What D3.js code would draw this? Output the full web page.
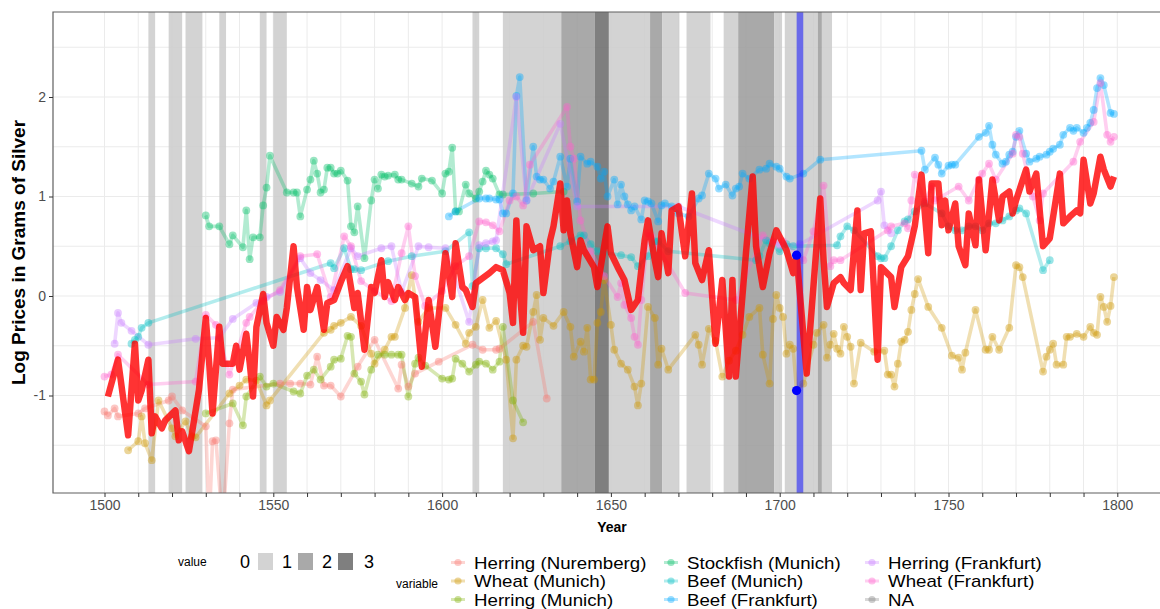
<!DOCTYPE html>
<html><head><meta charset="utf-8">
<script src="https://cdn.jsdelivr.net/npm/d3@7"></script>
<style>
body{margin:0;background:#fff;}
text{font-family:"Liberation Sans",Arial,sans-serif;}
</style></head>
<body><svg id="chart" width="1160" height="609"></svg>
<script>
// ---------------- DATA ----------------
const seriesNames = ["Herring (Nuremberg)","Wheat (Munich)","Herring (Munich)","Stockfish (Munich)","Beef (Munich)","Beef (Frankfurt)","Herring (Frankfurt)","Wheat (Frankfurt)","NA"];
const seriesColors = ["#F8766D","#CD9600","#7CAE00","#00BE67","#00BFC4","#00A9FF","#C77CFF","#FF61CC","#7F7F7F"];
const xTickLabels = [1500,1550,1600,1650,1700,1750,1800];
const yTickLabels = [-1,0,1,2];
const bandLevels = ["0","1","2","3"];
// [start year, end year, value]
const bands = [[1513,1515,1],[1519,1523,1],[1524,1529,1],[1534,1536,1],[1546,1548,1],[1550,1554,1],
 [1609,1611,1],[1618,1635.3,1],[1635.3,1645.2,2],[1645.2,1649.4,3],[1649.4,1661.6,1],[1661.6,1665.2,2],[1665.2,1670.3,1],
 [1672.4,1679.5,1],[1683.4,1687.7,1],[1687.7,1698.4,2],[1698.4,1700.7,1],[1701.5,1711.3,1],[1711.3,1712.5,2],[1712.5,1715.5,1]];
const markerYear = 1706;
const markerPoints = [[1705,0.41],[1705,-0.95]];

const herringNuremberg = [[1500,-1.16],[1501,-1.2],[1503,-1.13],[1504,-1.21],[1510,-1.18],[1512,-1.13],[1519,-1.05],[1520,-1.01],[1523,-1.15],[1530,-1.31],[1531,-2.3],[1532,-1.46],[1533,-1.45],[1535,-2.3],[1537,-1.28],[1538,-0.94],[1552,-0.88],[1555,-0.88],[1558,-0.88],[1561,-0.89],[1563,-0.61],[1565,-0.9],[1567,-0.9],[1570,-1.01],[1575,-0.71],[1580,-0.44],[1587,-0.93],[1588,-0.69],[1590,-0.91],[1592,-0.78],[1599,-0.66],[1609,-0.49],[1612,-0.54],[1616,-0.54],[1617,-0.53],[1627,-0.26],[1631,-1.03]];
const wheatMunich = [[1507,-1.55],[1510,-1.46],[1511,-1.21],[1512,-1.48],[1514,-1.65],[1516,-1.05],[1520,-1.33],[1521,-1.41],[1524,-1.26],[1526,-1.41],[1527,-1.42],[1537,-0.98],[1540,-0.9],[1542,-0.84],[1545,-0.85],[1548,-1.1],[1549,-1.05],[1565,-0.37],[1567,-0.34],[1568,-0.3],[1570,-0.27],[1573,-0.21],[1576,-0.3],[1579,-0.58],[1580,-0.68],[1583,-0.54],[1585,-0.41],[1586,-0.41],[1589,-0.12],[1591,0.21],[1593,-0.26],[1596,-0.12],[1601,-0.12],[1604,-0.29],[1607,-0.48],[1608,-0.37],[1610,-0.31],[1612,-0.04],[1614,-0.32],[1616,-0.25],[1619,-0.64],[1621,-1.43],[1622,-0.64],[1624,-0.5],[1625,-0.51],[1627,-0.16],[1628,0.01],[1629,-0.44],[1630,-0.22],[1633,-0.3],[1636,-0.16],[1638,-0.31],[1639,-0.61],[1641,-0.46],[1642,-0.56],[1643,-0.32],[1644,-0.84],[1645,-0.84],[1646,-0.27],[1647,-0.16],[1648,0.16],[1650,-0.29],[1651,-0.54],[1653,-0.68],[1655,-0.74],[1657,-0.91],[1658,-1.1],[1659,-0.88],[1661,-0.11],[1663,-0.22],[1664,-0.69],[1665,-0.53],[1667,-0.74],[1675,-0.39],[1676,-0.49],[1677,-0.69],[1679,-0.33],[1681,-0.45],[1683,-0.81],[1685,-0.65],[1687,-0.55],[1689,-0.39],[1691,-0.21],[1694,-0.12],[1695,-0.59],[1697,-0.88],[1698,-0.23],[1699,0.01],[1700,-0.12],[1701,-0.21],[1702,-0.58],[1703,-0.49],[1704,-0.53],[1705,-0.95],[1707,-0.88],[1710,-0.49],[1711,-0.37],[1713,-0.29],[1714,-0.62],[1715,-0.49],[1716,-0.38],[1717,-0.53],[1718,-0.58],[1719,-0.31],[1720,-0.41],[1721,-0.51],[1722,-0.88],[1724,-0.47],[1728,-0.56],[1731,-0.55],[1732,-0.79],[1733,-0.79],[1734,-0.91],[1735,-0.68],[1736,-0.46],[1737,-0.44],[1738,-0.36],[1739,-0.14],[1740,0.02],[1741,0.17],[1744,-0.11],[1748,-0.32],[1751,-0.6],[1753,-0.62],[1754,-0.74],[1755,-0.57],[1758,-0.14],[1761,-0.54],[1762,-0.54],[1763,-0.41],[1765,-0.54],[1768,-0.32],[1770,0.31],[1771,0.29],[1772,0.19],[1778,-0.76],[1779,-0.61],[1780,-0.54],[1781,-0.48],[1782,-0.69],[1784,-0.69],[1785,-0.41],[1786,-0.41],[1788,-0.38],[1790,-0.41],[1792,-0.31],[1793,-0.37],[1794,-0.39],[1795,-0.01],[1796,-0.11],[1797,-0.26],[1798,-0.1],[1799,0.19]];
const herringMunich = [[1530,-1.18],[1538,-1.08],[1541,-1.3],[1542,-1.01],[1546,-0.81],[1548,-0.91],[1550,-0.88],[1556,-0.96],[1558,-0.98],[1560,-0.8],[1562,-0.74],[1564,-0.84],[1567,-0.71],[1568,-0.64],[1570,-0.63],[1572,-0.4],[1573,-0.41],[1574,-0.78],[1576,-0.86],[1577,-0.99],[1579,-0.74],[1581,-0.59],[1583,-0.59],[1585,-0.59],[1587,-0.59],[1588,-0.59],[1590,-1.01],[1592,-0.68],[1593,-0.62],[1595,-0.7],[1600,-0.83],[1602,-0.84],[1603,-0.83],[1604,-0.63],[1606,-0.68],[1608,-0.76],[1610,-0.69],[1611,-0.66],[1613,-0.68],[1615,-0.74],[1617,-0.66],[1618,-0.31],[1621,-1.05],[1624,-1.27]];
const stockfishMunich = [[1530,0.81],[1531,0.7],[1534,0.7],[1537,0.52],[1538,0.61],[1541,0.49],[1542,0.86],[1543,0.37],[1544,0.59],[1546,0.59],[1547,0.91],[1548,1.09],[1549,1.41],[1554,1.04],[1556,1.04],[1557,1.04],[1558,0.8],[1560,1.07],[1561,1.17],[1562,1.36],[1563,1.23],[1564,1.04],[1565,1.07],[1566,1.29],[1567,1.29],[1568,1.23],[1569,1.23],[1570,1.26],[1572,1.16],[1573,0.7],[1574,0.64],[1575,0.9],[1577,0.38],[1579,0.96],[1580,1.17],[1581,1.08],[1582,1.22],[1583,1.2],[1584,1.21],[1586,1.22],[1587,1.17],[1588,1.17],[1591,1.13],[1593,1.1],[1594,1.18],[1597,1.16],[1600,1.03],[1601,1.23],[1602,1.25],[1603,1.49],[1604,0.85],[1605,0.85],[1607,1.12],[1608,1.03],[1610,0.98],[1611,1.05],[1612,1.15],[1613,1.26],[1614,1.22],[1615,1.18],[1617,1.02],[1618,1.02],[1627,1.03],[1636,1.05]];
const beefMunich = [[1508,-0.48],[1509,-0.44],[1510,-0.41],[1511,-0.32],[1513,-0.27],[1567,0.33],[1568,0.28],[1571,0.48],[1573,0.27],[1574,0.27],[1576,0.26],[1584,0.35],[1591,0.4],[1601,0.45],[1608,0.64],[1609,0.1],[1611,0.48],[1613,0.48],[1616,0.48],[1618,0.42],[1619,0.32],[1635,0.5],[1638,0.55],[1641,0.61],[1642,0.61],[1644,0.52],[1646,0.45],[1653,0.41],[1656,0.39],[1658,0.3],[1661,0.4],[1663,0.55],[1664,0.55],[1667,0.45],[1693,0.36],[1694,0.4],[1696,0.56],[1697,0.53],[1700,0.45],[1702,0.52],[1704,0.5],[1717,0.51],[1718,0.6],[1720,0.7],[1722,0.66],[1729,0.4],[1730,0.38],[1731,0.38],[1733,0.5],[1735,0.66],[1737,0.75],[1738,0.77],[1740,0.85],[1743,0.93],[1748,0.83],[1750,0.7],[1752,0.66],[1754,0.66],[1756,0.7],[1758,0.7],[1760,0.66],[1762,0.73],[1764,0.73],[1766,0.76],[1768,0.8],[1770,0.86],[1771,0.88],[1773,0.83],[1778,0.26],[1780,0.36]];
const beefFrankfurt = [[1602,0.8],[1604,0.85],[1611,0.98],[1613,0.98],[1614,0.98],[1616,0.97],[1617,0.97],[1618,0.83],[1619,0.83],[1621,1.03],[1622,2.01],[1623,2.2],[1625,0.96],[1627,1.5],[1628,1.2],[1629,1.17],[1630,1.17],[1632,1.08],[1633,1.15],[1635,1.4],[1637,1.1],[1638,1.38],[1640,0.95],[1641,1.4],[1643,1.33],[1644,1.35],[1646,1.3],[1647,1.18],[1648,1.25],[1649,1.0],[1651,1.17],[1652,0.92],[1653,1.12],[1654,1.0],[1655,0.92],[1656,0.86],[1657,0.9],[1659,0.77],[1660,0.96],[1661,0.95],[1662,0.93],[1664,0.75],[1665,0.91],[1666,0.93],[1668,0.9],[1670,0.83],[1673,0.8],[1676,0.98],[1677,1.01],[1679,1.23],[1681,1.18],[1682,1.08],[1684,1.12],[1686,1.01],[1687,1.08],[1688,1.1],[1689,1.23],[1691,1.18],[1694,1.27],[1696,1.28],[1697,1.33],[1699,1.3],[1700,1.28],[1702,1.2],[1703,1.18],[1707,1.23],[1712,1.37],[1742,1.46],[1743,1.27],[1746,1.39],[1747,1.32],[1748,1.23],[1750,1.31],[1751,1.32],[1752,1.32],[1759,1.6],[1761,1.64],[1762,1.71],[1763,1.52],[1764,1.42],[1766,1.33],[1767,1.35],[1768,1.42],[1769,1.45],[1770,1.6],[1771,1.66],[1773,1.43],[1774,1.35],[1776,1.38],[1777,1.4],[1779,1.42],[1780,1.45],[1781,1.48],[1783,1.52],[1784,1.62],[1786,1.69],[1787,1.66],[1788,1.69],[1790,1.64],[1791,1.69],[1792,1.74],[1793,1.87],[1794,2.09],[1795,2.19],[1796,2.12],[1798,1.84],[1799,1.83]];
const herringFrankfurt = [[1503,-0.48],[1504,-0.17],[1505,-0.27],[1508,-0.35],[1513,-0.49],[1527,-0.43],[1534,-0.42],[1538,-0.23],[1545,-0.07],[1548,-0.01],[1552,0.04],[1558,0.38],[1561,0.23],[1564,0.16],[1568,0.06],[1573,0.48],[1575,0.4],[1582,0.48],[1585,0.5],[1588,0.04],[1593,0.5],[1596,0.49],[1601,0.48],[1608,-0.26],[1611,0.51],[1613,0.53],[1615,0.55],[1616,0.56],[1622,2.0],[1625,0.96],[1635,1.73],[1640,0.9],[1670,0.9],[1700,0.51],[1706,0.52],[1729,0.96],[1730,1.05],[1731,0.71],[1733,0.63]];
const wheatFrankfurt = [[1500,-0.81],[1502,-0.79],[1504,-0.59],[1513,-0.89],[1527,-0.86],[1530,-0.19],[1533,-0.29],[1537,-0.79],[1542,-0.27],[1543,-0.21],[1547,-0.05],[1552,0.06],[1558,0.4],[1563,0.42],[1567,-0.01],[1571,0.6],[1573,0.5],[1576,0.15],[1580,0.05],[1585,-0.05],[1588,0.43],[1590,0.7],[1592,0.2],[1595,-0.1],[1600,0.05],[1604,0.3],[1608,0.4],[1611,0.75],[1613,0.74],[1615,0.71],[1617,0.65],[1620,0.96],[1622,1.0],[1624,0.91],[1626,1.32],[1637,1.9],[1638,1.5],[1639,1.38],[1641,0.76],[1644,0.45],[1648,0.2],[1652,-0.01],[1653,0.13],[1654,-0.09],[1656,-0.22],[1657,-0.41],[1658,-0.49],[1659,-0.04],[1661,0.63],[1662,0.6],[1672,0.03],[1687,-0.04],[1695,0.61],[1698,0.55],[1701,0.55],[1707,0.36],[1710,0.65],[1713,1.11],[1715,0.3],[1716,0.36],[1718,0.36],[1732,0.66],[1733,0.7],[1737,0.73],[1738,0.68],[1739,0.96],[1740,1.22],[1743,0.95],[1745,1.1],[1746,0.96],[1753,1.1],[1756,0.96],[1759,1.17],[1760,1.23],[1762,1.33],[1764,1.17],[1769,1.43],[1770,1.62],[1771,1.6],[1772,1.43],[1775,1.0],[1777,0.76],[1778,1.03],[1787,1.35],[1789,1.55],[1793,1.75],[1795,2.14],[1797,1.62],[1798,1.55],[1799,1.6]];
const naSeries = [];
const compositeIndex = [[1501,-1.01],[1504,-0.64],[1507,-1.4],[1509,-0.48],[1510,-1.05],[1511,-0.95],[1513,-0.64],[1514,-1.38],[1515,-1.21],[1517,-1.33],[1518,-1.25],[1521,-1.15],[1522,-1.45],[1523,-1.36],[1525,-1.56],[1526,-1.36],[1528,-0.94],[1530,-0.22],[1531,-0.67],[1532,-1.18],[1534,-0.31],[1535,-0.68],[1538,-0.68],[1539,-0.5],[1540,-0.74],[1542,-0.38],[1543,-0.67],[1544,-1.01],[1545,-0.31],[1547,0.02],[1548,-0.27],[1550,-0.5],[1551,-0.21],[1553,-0.34],[1554,-0.12],[1556,0.5],[1557,0.09],[1559,-0.34],[1560,0.09],[1561,-0.14],[1563,0.09],[1565,-0.34],[1566,-0.07],[1568,-0.04],[1570,0.14],[1572,0.3],[1574,-0.12],[1575,0.03],[1577,-0.54],[1579,0.09],[1580,0.03],[1582,0.36],[1583,-0.01],[1584,0.14],[1586,-0.04],[1587,0.09],[1589,-0.04],[1590,0.03],[1592,-0.01],[1594,-0.71],[1596,-0.04],[1598,-0.51],[1601,0.43],[1603,-0.01],[1604,0.53],[1606,0.09],[1607,0.06],[1609,-0.11],[1610,0.13],[1614,0.23],[1616,0.29],[1618,0.26],[1620,0.03],[1621,-0.27],[1622,0.76],[1623,0.06],[1624,-0.37],[1625,0.7],[1627,0.46],[1629,0.5],[1630,0.03],[1632,0.56],[1633,0.7],[1635,1.13],[1636,0.66],[1637,0.96],[1638,0.63],[1640,0.29],[1641,0.56],[1642,0.46],[1645,0.29],[1646,0.09],[1648,0.5],[1649,0.7],[1650,0.43],[1652,0.29],[1654,0.16],[1656,-0.14],[1658,-0.04],[1660,0.56],[1661,0.76],[1663,0.36],[1664,0.19],[1665,0.63],[1667,0.23],[1668,0.86],[1670,0.9],[1672,0.4],[1674,1.03],[1675,0.33],[1677,0.16],[1679,0.46],[1681,-0.48],[1683,0.16],[1685,-0.81],[1686,0.16],[1687,-0.81],[1690,0.43],[1692,1.2],[1693,0.5],[1695,0.09],[1697,0.43],[1699,0.66],[1701,0.53],[1702,0.46],[1704,0.23],[1705,0.41],[1708,-0.78],[1712,0.98],[1713,0.36],[1714,-0.11],[1716,0.13],[1718,0.19],[1719,0.13],[1721,0.06],[1723,0.86],[1724,0.06],[1725,0.63],[1727,0.65],[1729,-0.64],[1730,0.29],[1733,0.19],[1734,-0.11],[1736,0.29],[1738,0.4],[1740,0.7],[1742,1.22],[1744,0.43],[1745,1.13],[1747,1.13],[1748,0.71],[1749,0.96],[1750,0.66],[1752,0.93],[1753,0.5],[1755,0.31],[1756,0.83],[1758,0.51],[1759,1.17],[1761,0.46],[1763,1.17],[1765,0.76],[1766,1.0],[1768,1.05],[1769,0.83],[1770,0.96],[1773,1.27],[1774,1.05],[1776,1.23],[1778,0.5],[1780,0.58],[1783,1.23],[1784,0.73],[1786,0.8],[1788,0.86],[1789,0.83],[1790,1.37],[1792,0.93],[1793,1.03],[1795,1.4],[1796,1.27],[1798,1.1],[1799,1.2]];

const seriesData = [herringNuremberg, wheatMunich, herringMunich, stockfishMunich, beefMunich, beefFrankfurt, herringFrankfurt, wheatFrankfurt, naSeries];

// ---------------- LAYOUT ----------------
const W = 1160, H = 609;
const P = {left:53, top:12, right:1160, bottom:493};
const svg = d3.select("#chart");
const x = d3.scaleLinear().domain([1500,1800]).range([104.5,1117.3]);
const y = d3.scaleLinear().domain([0,1]).range([296,196.5]);
const bandFill = d3.scaleOrdinal().domain([1,2,3]).range(["#cbcbcb","#9a9a9a","#686868"]);

svg.append("rect").attr("width",W).attr("height",H).attr("fill","#fff");
svg.append("defs").append("clipPath").attr("id","clip")
  .append("rect").attr("x",P.left).attr("y",P.top).attr("width",P.right-P.left+10).attr("height",P.bottom-P.top);

// grid
const xGrid = d3.range(1500,1801,10);
svg.append("g").selectAll("line").data(xGrid).join("line")
  .attr("x1",d=>x(d)).attr("x2",d=>x(d)).attr("y1",P.top).attr("y2",P.bottom)
  .attr("stroke","#ebebeb").attr("stroke-width",1);
const yGrid = d3.range(-1.5,3,0.5);
svg.append("g").selectAll("line").data(yGrid).join("line")
  .attr("x1",P.left).attr("x2",P.right).attr("y1",d=>y(d)).attr("y2",d=>y(d))
  .attr("stroke","#ebebeb").attr("stroke-width",1);

const plot = svg.append("g").attr("clip-path","url(#clip)");
// bands
plot.append("g").selectAll("rect").data(bands).join("rect")
  .attr("x",d=>x(d[0])).attr("width",d=>x(d[1])-x(d[0]))
  .attr("y",P.top).attr("height",P.bottom-P.top)
  .attr("fill",d=>bandFill(d[2])).attr("fill-opacity",0.85);

// series
const line = d3.line().x(d=>x(d[0])).y(d=>y(d[1]));
seriesData.forEach((s,i)=>{
  if(!s.length) return;
  plot.append("path").datum(s).attr("d",line).attr("fill","none")
    .attr("stroke",seriesColors[i]).attr("stroke-width",3.6).attr("stroke-opacity",0.3)
    .attr("stroke-linejoin","round");
});
seriesData.forEach((s,i)=>{
  plot.append("g").selectAll("circle").data(s).join("circle")
    .attr("cx",d=>x(d[0])).attr("cy",d=>y(d[1])).attr("r",3.9)
    .attr("fill",seriesColors[i]).attr("fill-opacity",0.4);
});
// marker vline
plot.append("line").attr("x1",x(markerYear)).attr("x2",x(markerYear)).attr("y1",P.top).attr("y2",P.bottom)
  .attr("stroke","#0000ff").attr("stroke-opacity",0.5).attr("stroke-width",6.6);
// composite
plot.append("path").datum(compositeIndex).attr("d",line).attr("fill","none")
  .attr("stroke","#ff0000").attr("stroke-opacity",0.8).attr("stroke-width",6.5)
  .attr("stroke-linejoin","round");
plot.append("g").selectAll("circle").data(markerPoints).join("circle")
  .attr("cx",d=>x(d[0])).attr("cy",d=>y(d[1])).attr("r",4.6).attr("fill","#0000ff");

// panel border
svg.append("path").attr("d",`M${P.right+5},${P.top}H${P.left}V${P.bottom}H${P.right+5}`)
  .attr("fill","none").attr("stroke","#5f5f5f").attr("stroke-width",1.2);

// axes
const xAxis = d3.axisBottom(x).tickValues(d3.range(1500,1801,10)).tickSize(4).tickPadding(3)
  .tickFormat(d=> xTickLabels.includes(d) ? String(d) : "");
const gx = svg.append("g").attr("transform",`translate(0,${P.bottom})`).call(xAxis);
gx.select(".domain").remove();
gx.selectAll("line").attr("stroke","#333").attr("stroke-width",1);
gx.selectAll("text").attr("fill","#4d4d4d").attr("font-size",14).attr("font-family","Liberation Sans, Arial, sans-serif");

const yAxis = d3.axisLeft(y).tickValues(yTickLabels).tickSize(4).tickPadding(3).tickFormat(d=>String(d));
const gy = svg.append("g").attr("transform",`translate(${P.left},0)`).call(yAxis);
gy.select(".domain").remove();
gy.selectAll("line").attr("stroke","#333");
gy.selectAll("text").attr("fill","#4d4d4d").attr("font-size",14).attr("font-family","Liberation Sans, Arial, sans-serif");

// titles
svg.append("text").attr("x",612).attr("y",532).attr("text-anchor","middle")
  .attr("font-size",14).attr("font-weight","bold").attr("fill","#000").text("Year");
svg.append("text").attr("transform",`translate(25,${(P.top+P.bottom)/2}) rotate(-90)`)
  .attr("text-anchor","middle").attr("font-size",19).attr("font-weight","bold").attr("fill","#000")
  .text("Log Prices in Grams of Silver");

// legend: value
const lg = svg.append("g");
lg.append("text").attr("x",178).attr("y",566).attr("font-size",12).attr("fill","#000").text("value");
const keyX = [258,298,338];
const labX = [245,287,327,369];
lg.selectAll("rect.k").data([1,2,3]).join("rect")
  .attr("x",(d,i)=>keyX[i]).attr("y",553).attr("width",15).attr("height",17)
  .attr("fill",d=>bandFill(d)).attr("fill-opacity",0.85);
lg.selectAll("text.l").data(bandLevels).join("text")
  .attr("x",(d,i)=>labX[i]).attr("y",568).attr("text-anchor","middle").attr("font-size",18).attr("fill","#000").text(d=>d);

// legend: variable
lg.append("text").attr("x",396).attr("y",588).attr("font-size",12).attr("fill","#000").text("variable");
const colKeyX = [458,671,872];
const rowY = [562.5,581,599.5];
seriesNames.forEach((n,i)=>{
  const c = Math.floor(i/3), r = i%3;
  const cx = colKeyX[c], cy = rowY[r];
  lg.append("line").attr("x1",cx-7).attr("x2",cx+7).attr("y1",cy).attr("y2",cy)
    .attr("stroke",seriesColors[i]).attr("stroke-width",3).attr("stroke-opacity",0.3);
  lg.append("circle").attr("cx",cx).attr("cy",cy).attr("r",3.6).attr("fill",seriesColors[i]).attr("fill-opacity",0.4);
  const t = lg.append("text").attr("x",cx+16).attr("y",cy+6).attr("font-size",16.4).attr("fill","#000").text(n);
  const w = t.node().getComputedTextLength();
  t.attr("textLength", w*1.14).attr("lengthAdjust","spacingAndGlyphs");
});
</script></body></html>
